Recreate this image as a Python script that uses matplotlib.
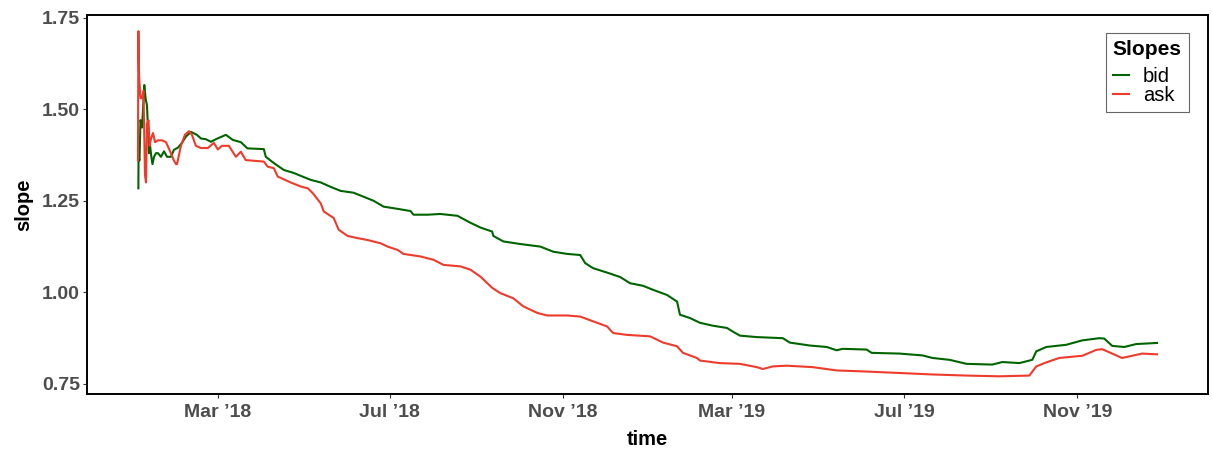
import numpy as np
import pandas as pd
import matplotlib
matplotlib.use("Agg")
import matplotlib.pyplot as plt
import matplotlib.dates as mdates

plt.rcParams['font.family'] = ['Liberation Sans', 'DejaVu Sans']

# time stamps are days since 2018-01-01
bid_t = [2.8, 2.9, 3.6, 4.3, 5.4, 6.4, 7.0, 7.9, 8.9, 9.6, 10.3, 11.1, 12.1, 12.8,
         13.9, 15.3, 16.7, 18.8, 21.0, 23.1, 25.9, 28.0, 30.9, 33.7, 36.5, 40.1,
         44.3, 47.2, 50.7, 54.3, 57.8, 64.9, 69.8, 75.5, 80.2, 91.8, 93.2, 98.9,
         106.0, 113.0, 118.0, 125.1, 132.2, 139.2, 146.3, 155.5, 162.6, 169.7,
         176.8, 186.7, 195.9, 198.0, 207.9, 217.1, 229.2, 238.4, 245.5, 253.8,
         254.7, 261.8, 273.8, 288.0, 297.2, 307.1, 316.3, 319.8, 325.5, 335.4,
         344.6, 351.7, 360.9, 368.0, 377.9, 385.0, 387.1, 394.2, 401.3, 410.5,
         420.4, 424.6, 429.6, 441.6, 460.1, 465.0, 479.2, 491.2, 498.3, 502.5,
         519.5, 523.1, 542.9, 559.2, 566.3, 578.3, 590.4, 608.8, 615.9, 627.9,
         637.1, 639.9, 647.0, 661.2, 672.5, 684.5, 688.1, 693.8, 702.3, 710.8,
         725.6]
bid = [1.284, 1.367, 1.360, 1.470, 1.450, 1.520, 1.566, 1.530, 1.510, 1.450,
       1.380, 1.400, 1.367, 1.350, 1.370, 1.380, 1.380, 1.370, 1.385, 1.370,
       1.370, 1.389, 1.395, 1.408, 1.425, 1.438, 1.430, 1.420, 1.418, 1.411,
       1.418, 1.430, 1.416, 1.410, 1.393, 1.391, 1.370, 1.353, 1.334, 1.326,
       1.318, 1.307, 1.300, 1.288, 1.277, 1.272, 1.261, 1.250, 1.234, 1.228,
       1.222, 1.212, 1.212, 1.214, 1.209, 1.190, 1.177, 1.166, 1.154, 1.139,
       1.132, 1.125, 1.111, 1.105, 1.102, 1.080, 1.066, 1.054, 1.042, 1.025,
       1.018, 1.007, 0.993, 0.975, 0.939, 0.930, 0.917, 0.909, 0.903, 0.893,
       0.882, 0.878, 0.875, 0.863, 0.855, 0.851, 0.842, 0.846, 0.844, 0.835,
       0.833, 0.828, 0.821, 0.816, 0.805, 0.803, 0.810, 0.807, 0.816, 0.839,
       0.851, 0.857, 0.869, 0.875, 0.874, 0.854, 0.851, 0.859, 0.862]

ask_t = [2.5, 2.8, 3.3, 4.3, 5.4, 6.4, 7.5, 8.2, 8.9, 10.0, 10.7, 11.8, 13.2,
         14.6, 16.7, 19.5, 22.4, 25.9, 28.0, 29.5, 30.2, 33.0, 35.8, 38.7, 40.8,
         43.6, 47.2, 52.1, 56.4, 59.2, 62.0, 67.0, 72.0, 75.5, 79.0, 91.8, 94.6,
         98.9, 101.7, 110.9, 118.0, 123.0, 126.5, 132.2, 134.3, 141.4, 144.9,
         151.3, 158.4, 165.4, 174.7, 179.6, 186.7, 190.9, 203.0, 212.2, 219.3,
         231.3, 238.4, 245.5, 254.0, 259.6, 268.8, 275.9, 285.8, 292.9, 307.1,
         316.3, 325.5, 335.4, 339.7, 349.6, 365.9, 375.1, 385.0, 389.2, 399.1,
         401.3, 415.4, 429.6, 441.6, 445.9, 453.0, 462.9, 481.3, 498.3, 519.5,
         542.9, 566.3, 590.4, 613.7, 635.0, 639.9, 647.0, 656.2, 672.5, 682.4,
         686.7, 693.8, 700.8, 707.9, 715.0, 725.6]
ask = [1.360, 1.713, 1.590, 1.530, 1.530, 1.550, 1.320, 1.300, 1.460, 1.470,
       1.400, 1.420, 1.435, 1.410, 1.415, 1.415, 1.410, 1.380, 1.360, 1.350,
       1.350, 1.400, 1.430, 1.440, 1.430, 1.400, 1.394, 1.394, 1.408, 1.390,
       1.400, 1.400, 1.370, 1.384, 1.361, 1.357, 1.343, 1.339, 1.316, 1.300,
       1.289, 1.284, 1.271, 1.243, 1.221, 1.203, 1.171, 1.154, 1.148, 1.143,
       1.134, 1.125, 1.116, 1.105, 1.098, 1.089, 1.075, 1.071, 1.062, 1.043,
       1.012, 0.998, 0.984, 0.962, 0.944, 0.937, 0.937, 0.934, 0.921, 0.907,
       0.889, 0.884, 0.880, 0.863, 0.853, 0.835, 0.821, 0.814, 0.807, 0.805,
       0.796, 0.791, 0.798, 0.800, 0.796, 0.787, 0.784, 0.780, 0.776, 0.773,
       0.771, 0.773, 0.798, 0.809, 0.821, 0.827, 0.843, 0.845, 0.833, 0.821,
       0.827, 0.833, 0.831]

series = ['bid', 'ask']
colours = ['#006400', '#EE3B2B']

t0 = pd.Timestamp('2018-01-01')
bid_dates = t0 + pd.to_timedelta(bid_t, unit='D')
ask_dates = t0 + pd.to_timedelta(ask_t, unit='D')

fig = plt.figure(figsize=(12.12, 4.51), dpi=100)
ax = fig.add_axes([87 / 1212, 1 - 394 / 451, (1208 - 87) / 1212, (394 - 15) / 451])

ax.plot(bid_dates, bid, color=colours[0], lw=1.5, label=series[0])
ax.plot(ask_dates, ask, color=colours[1], lw=1.5, label=series[1])

ax.margins(x=0.05)
ax.set_ylim(0.7227, 1.757)
ax.set_yticks([0.75, 1.00, 1.25, 1.50, 1.75])
ax.set_yticklabels(['0.75', '1.00', '1.25', '1.50', '1.75'])

ax.xaxis.set_major_locator(mdates.MonthLocator(bymonth=[3, 7, 11]))
ax.xaxis.set_major_formatter(mdates.DateFormatter('%b \u2019%y'))

for s in ax.spines.values():
    s.set_linewidth(1.4)
    s.set_color('black')

ax.tick_params(axis='both', length=3, width=0.8, color='#333333',
               labelcolor='#4D4D4D', labelsize=14)
for lbl in ax.get_xticklabels() + ax.get_yticklabels():
    lbl.set_fontweight('bold')
ax.tick_params(axis='x', pad=4)
ax.tick_params(axis='y', pad=2)

ax.set_xlabel('time', fontsize=14.5, fontweight='bold', labelpad=7)
ax.set_ylabel('slope', fontsize=14.5, fontweight='bold', labelpad=6)

leg = ax.legend(title='Slopes', loc='upper right', bbox_to_anchor=(0.983, 0.9525),
                borderaxespad=0, fontsize=14.5,
                title_fontproperties={'weight': 'bold', 'size': 15},
                handlelength=0.8, handletextpad=0.7, labelspacing=0.0,
                borderpad=0.35, fancybox=False, framealpha=1)
leg.get_frame().set_edgecolor('#666666')
leg.get_frame().set_linewidth(0.8)
leg._legend_box.align = 'left'
leg._legend_box.sep = 6

fig.savefig('out.png', dpi=100)
